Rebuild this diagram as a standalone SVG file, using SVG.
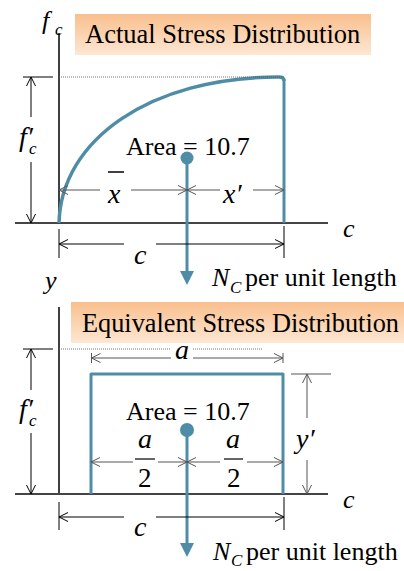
<svg xmlns="http://www.w3.org/2000/svg" width="404" height="571" viewBox="0 0 404 571">
<defs>
<linearGradient id="peach" x1="0" y1="0" x2="0" y2="1">
<stop offset="0" stop-color="#F9BF8D"/>
<stop offset="1" stop-color="#FDE7D3"/>
</linearGradient>
<marker id="ab" viewBox="-10 -6 12 12" refX="0" refY="0" markerWidth="12" markerHeight="12" markerUnits="userSpaceOnUse" orient="auto">
<path d="M-9,-4.5 L0,0 L-9,4.5" fill="none" stroke="#000" stroke-width="1"/>
</marker>
<marker id="ag" viewBox="-10 -6 12 12" refX="0" refY="0" markerWidth="12" markerHeight="12" markerUnits="userSpaceOnUse" orient="auto">
<path d="M-9,-4.5 L0,0 L-9,4.5" fill="none" stroke="#555" stroke-width="1"/>
</marker>
<style>
text{font-family:"Liberation Serif","Times New Roman",serif;fill:#000;font-size:26px}
.it{font-style:italic}
.m{font-style:italic;font-size:28px}
.sub{font-style:italic;font-size:17px}
.db{stroke:#000;stroke-width:1;fill:none}
.dg{stroke:#555;stroke-width:1;fill:none}
.ax{stroke:#000;stroke-width:1.5}
.bx{stroke:#444;stroke-width:2}
.dot{stroke:#555;stroke-width:0.8;stroke-dasharray:1 1}
.teal{stroke:#4F8DA7;stroke-width:3;fill:none;stroke-linejoin:round}
.tf{fill:#4F8DA7}
</style>
</defs>

<!-- ===== Top: Actual Stress Distribution ===== -->
<g id="title-actual">
<rect x="75" y="14" width="296" height="41" fill="url(#peach)"/>
<text x="85" y="43" style="font-size:26.5px">Actual Stress Distribution</text>
</g>
<g id="axes-top">
<line class="ax" x1="59" y1="33" x2="59" y2="223"/>
<line class="bx" x1="15" y1="223" x2="328" y2="223"/>
<text class="it" x="42" y="29">f</text>
<text class="sub" x="55" y="35">c</text>
<text class="it" x="343" y="237">c</text>
<text class="it" x="45" y="289">y</text>
</g>
<g id="curve-actual">
<path class="teal" style="stroke-width:3.5" d="M59,223 C61,140 150,77 279,77 Q284,77 284,81"/>
<path class="teal" d="M284,79 L284,223"/>
</g>
<g id="resultant-top">
<text x="126" y="155">Area = 10.7</text>
<circle class="tf" cx="187" cy="158" r="6.5"/>
<line class="teal" x1="187" y1="158" x2="187" y2="273"/>
<polygon class="tf" points="180,271 194,271 187,285"/>
<text class="it" x="212" y="286">N</text>
<text class="sub" x="230" y="293">C</text>
<text x="245" y="286">per unit length</text>
</g>
<g id="connectors-top">
<line class="dot" x1="59" y1="77" x2="285" y2="77"/>
<line class="db" x1="23" y1="77" x2="53" y2="77"/>
<line class="db" x1="31" y1="117" x2="31" y2="77" marker-end="url(#ab)"/>
<line class="db" x1="31" y1="162" x2="31" y2="223" marker-end="url(#ab)"/>
<line class="dg" x1="100" y1="190" x2="59" y2="190" marker-end="url(#ag)"/>
<line class="dg" x1="131" y1="190" x2="187" y2="190" marker-end="url(#ag)"/>
<line class="dg" x1="220" y1="190" x2="187" y2="190" marker-end="url(#ag)"/>
<line class="dg" x1="253" y1="190" x2="284" y2="190" marker-end="url(#ag)"/>
<line class="db" x1="59" y1="229" x2="59" y2="258"/>
<line class="db" x1="284" y1="226" x2="284" y2="258"/>
<line class="db" x1="124" y1="244" x2="59" y2="244" marker-end="url(#ab)"/>
<line class="db" x1="156" y1="244" x2="284" y2="244" marker-end="url(#ab)"/>
</g>
<g id="labels-top">
<text class="m" x="19" y="146">f′</text>
<text class="sub" x="29" y="154">c</text>
<text class="m" x="108" y="203">x</text>
<line x1="108" y1="172" x2="124" y2="172" stroke="#000" stroke-width="1.5"/>
<text class="m" x="223" y="203">x′</text>
<text class="m" x="134" y="264">c</text>
</g>

<!-- ===== Bottom: Equivalent Stress Distribution ===== -->
<g id="title-equivalent">
<rect x="71" y="302" width="333" height="41" fill="url(#peach)"/>
<text x="82" y="332" style="font-size:26.3px">Equivalent Stress Distribution</text>
</g>
<g id="axes-bottom">
<line class="ax" x1="59" y1="307" x2="59" y2="494"/>
<line class="bx" x1="15" y1="494" x2="328" y2="494"/>
<text class="it" x="343" y="508">c</text>
</g>
<g id="block-equivalent">
<path class="teal" d="M91,494 L91,374 L283,374 L283,494"/>
</g>
<g id="resultant-bottom">
<text x="126" y="420">Area = 10.7</text>
<circle class="tf" cx="187" cy="430" r="7"/>
<line class="teal" x1="187" y1="430" x2="187" y2="545"/>
<polygon class="tf" points="180,543 194,543 187,557"/>
<text class="it" x="213" y="560">N</text>
<text class="sub" x="231" y="566">C</text>
<text x="246" y="560">per unit length</text>
</g>
<g id="connectors-bottom">
<line class="dot" x1="59" y1="349" x2="263" y2="349"/>
<line class="db" x1="23" y1="349" x2="53" y2="349"/>
<line class="db" x1="31" y1="390" x2="31" y2="349" marker-end="url(#ab)"/>
<line class="db" x1="31" y1="433" x2="31" y2="494" marker-end="url(#ab)"/>
<line class="dg" x1="91.5" y1="353" x2="91.5" y2="363"/>
<line class="dg" x1="283" y1="353" x2="283" y2="363"/>
<line class="dg" x1="172" y1="358" x2="91.5" y2="358" marker-end="url(#ag)"/>
<line class="dg" x1="192" y1="358" x2="283" y2="358" marker-end="url(#ag)"/>
<line class="dg" x1="291" y1="374" x2="331" y2="374"/>
<line class="dg" x1="307" y1="418" x2="307" y2="374" marker-end="url(#ag)"/>
<line class="dg" x1="307" y1="460" x2="307" y2="494" marker-end="url(#ag)"/>
<line class="dg" x1="133" y1="462" x2="91" y2="462" marker-end="url(#ag)"/>
<line class="dg" x1="158" y1="462" x2="187" y2="462" marker-end="url(#ag)"/>
<line class="dg" x1="220" y1="462" x2="187" y2="462" marker-end="url(#ag)"/>
<line class="dg" x1="247" y1="462" x2="283" y2="462" marker-end="url(#ag)"/>
<line class="db" x1="59" y1="502" x2="59" y2="530"/>
<line class="db" x1="284" y1="497" x2="284" y2="530"/>
<line class="db" x1="124" y1="517" x2="59" y2="517" marker-end="url(#ab)"/>
<line class="db" x1="156" y1="517" x2="284" y2="517" marker-end="url(#ab)"/>
</g>
<g id="labels-bottom">
<text class="m" x="19" y="418">f′</text>
<text class="sub" x="29" y="426">c</text>
<rect x="171" y="343" width="22" height="19" fill="#fff"/>
<text class="m" x="175" y="359">a</text>
<text class="m" x="296" y="448">y′</text>
<text class="m" x="138" y="448">a</text>
<line x1="135" y1="459" x2="155" y2="459" stroke="#000" stroke-width="1.2"/>
<text x="138" y="487" style="font-size:27px">2</text>
<text class="m" x="226" y="448">a</text>
<line x1="224" y1="459" x2="243" y2="459" stroke="#000" stroke-width="1.2"/>
<text x="227" y="487" style="font-size:27px">2</text>
<text class="m" x="134" y="536">c</text>
</g>
</svg>
